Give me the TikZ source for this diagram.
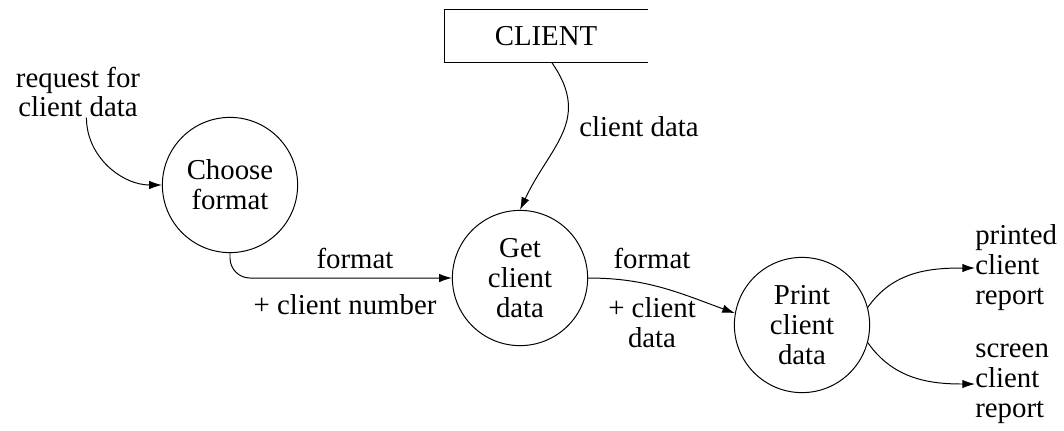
\documentclass[tikz,border=0pt]{standalone}
\usepackage{fontspec}
\setmainfont{Liberation Serif}
\usepackage{tikz}
\usetikzlibrary{arrows.meta}
\pgfdeclarelayer{edgelayer}
\pgfdeclarelayer{nodelayer}
\pgfsetlayers{edgelayer,nodelayer,main}
\tikzstyle{process}=[circle,fill=white,draw=black,line width=0.7pt,minimum size=3.38cm,inner sep=0pt,align=center]
\tikzstyle{label}=[inner sep=0pt,align=center]
\tikzstyle{flow}=[-{Latex[length=9pt,width=6pt]},line width=0.7pt]
\begin{document}
\begin{tikzpicture}[x=0.025cm,y=-0.025cm,font=\fontsize{20.5}{21.3}\selectfont]
        \useasboundingbox (0,0) rectangle (1064,430);
        \begin{pgfonlayer}{nodelayer}
            \node [style = process] (choose) at (230, 185) {Choose\\format};
            \node [style = process] (get) at (520, 278) {Get\\client\\data};
            \node [style = process] (print) at (802, 325) {Print\\client\\data};
            \node [minimum width=5.08cm, minimum height=1.3cm, inner sep=0pt] (client) at (546, 36) {CLIENT};
            \node [style = label] (req) at (78, 92) {request for\\client data};
            \node [style = label, align=left, anchor=west] (printed) at (975, 268) {printed\\client\\report};
            \node [style = label, align=left, anchor=west] (screen) at (975, 384) {screen\\client\\report};
            \node [style = label] (l1) at (355, 258) {format};
            \node [style = label] (l2) at (345, 305) {+ client number};
            \node [style = label] (l3) at (639, 127) {client data};
            \node [style = label] (l4) at (652, 258) {format};
            \node [style = label] (l5) at (652, 323) {+ client\\data};
        \end{pgfonlayer}

        \begin{pgfonlayer}{edgelayer}
            \draw [line width=0.7pt] (client.north east) -- (client.north west) -- (client.south west) -- (client.south east);
            \draw [style = flow] ([xshift=6]req.south) to [out=-90, in=180] (choose.west);
            \draw [style = flow, rounded corners=0.5cm] (choose.south) |- (get.west);
            \draw [style = flow] ([xshift=4]client.south) to [out=-55, in=65, looseness=1.2] (get.north);
            \draw [style = flow] (get.east) to [out=0, in=160] (print.170);
            \draw [style = flow] (print.15) to [out=55, in=180] (printed.west);
            \draw [style = flow] (print.-15) to [out=-55, in=180] (screen.west);
        \end{pgfonlayer}
    \end{tikzpicture}
\end{document}
